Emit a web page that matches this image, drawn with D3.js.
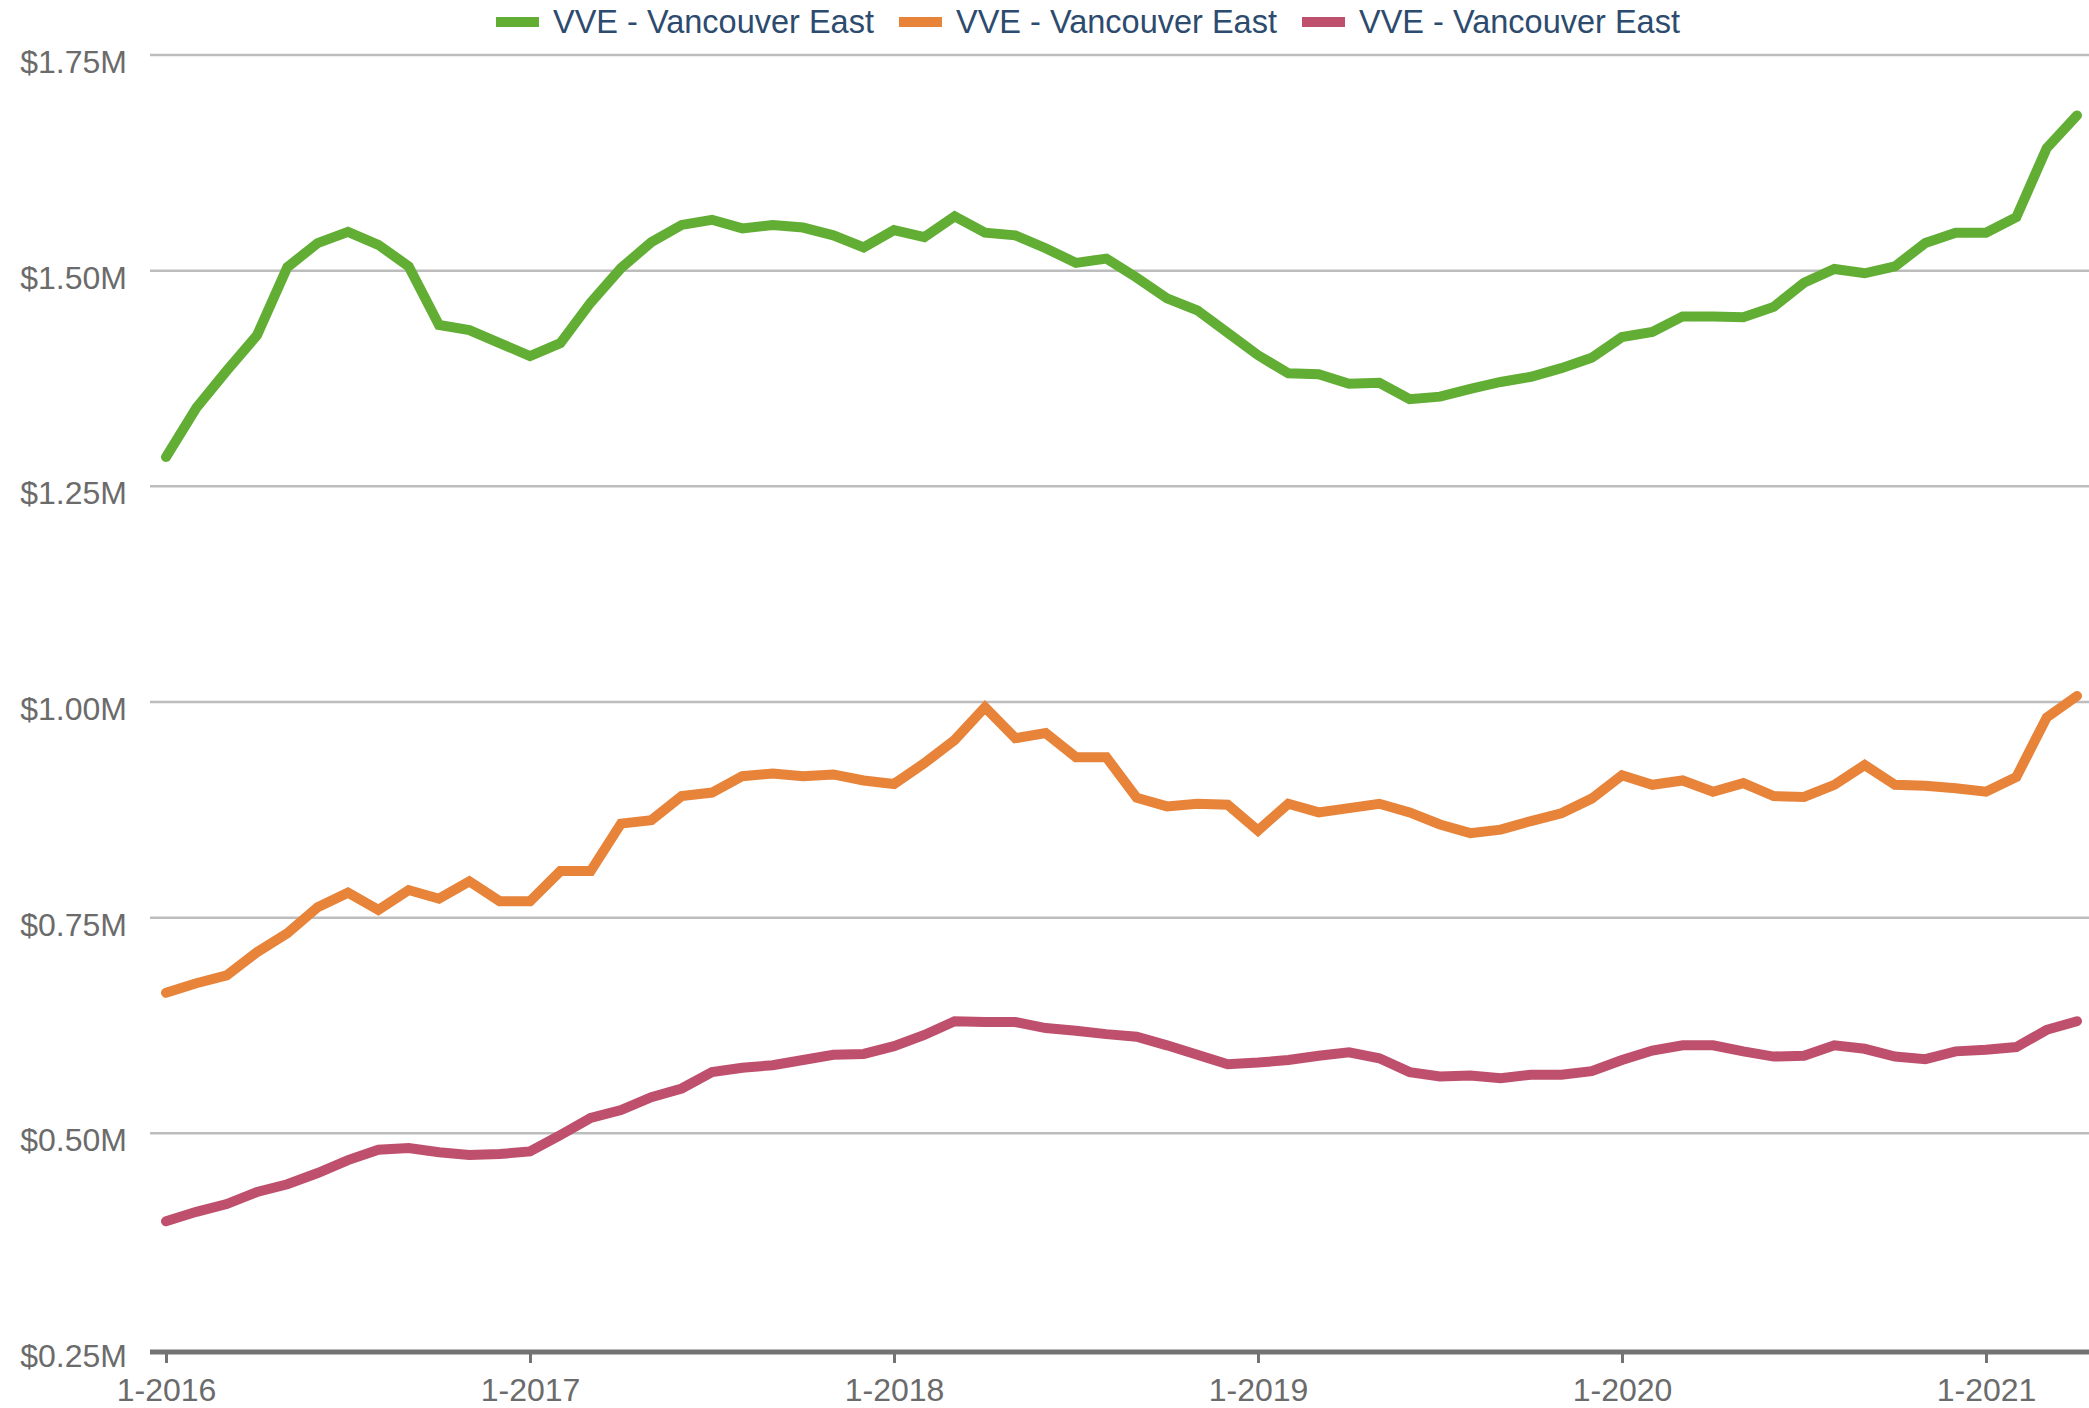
<!DOCTYPE html>
<html>
<head>
<meta charset="utf-8">
<script src="https://cdn.jsdelivr.net/npm/d3@7"></script>
<style>
    body { margin: 0; background: #fff; }
    svg { display: block; font-family: "Liberation Sans", Arial, sans-serif; }
</style>
</head>
<body>
<div id="chart"></div>
<script>
// Monthly values (in $M), Jan 2016 .. Apr 2021
const seriesNames = ["VVE - Vancouver East", "VVE - Vancouver East", "VVE - Vancouver East"];
const seriesColors = ["#62ae35", "#e8833a", "#bf506d"];

const greenValues = [
    1.284, 1.341, 1.384, 1.425, 1.504, 1.532, 1.545, 1.530, 1.505, 1.437, 1.431, 1.416,
    1.401, 1.416, 1.463, 1.503, 1.533, 1.553, 1.559, 1.549, 1.553, 1.550, 1.541, 1.527,
    1.547, 1.539, 1.563, 1.544, 1.541, 1.526, 1.509, 1.514, 1.492, 1.468, 1.454, 1.428,
    1.402, 1.381, 1.380, 1.369, 1.370, 1.351, 1.354, 1.363, 1.371, 1.377, 1.387, 1.399,
    1.423, 1.429, 1.447, 1.447, 1.446, 1.458, 1.486, 1.502, 1.497, 1.505, 1.532, 1.544,
    1.544, 1.562, 1.642, 1.680
];
const orangeValues = [
    0.663, 0.674, 0.683, 0.710, 0.732, 0.762, 0.779, 0.759, 0.782, 0.772, 0.792, 0.769,
    0.769, 0.804, 0.804, 0.859, 0.863, 0.891, 0.895, 0.914, 0.917, 0.914, 0.916, 0.909,
    0.905, 0.929, 0.956, 0.994, 0.958, 0.964, 0.936, 0.936, 0.889, 0.879, 0.882, 0.881,
    0.851, 0.882, 0.872, 0.877, 0.882, 0.872, 0.858, 0.848, 0.852, 0.862, 0.871, 0.888,
    0.915, 0.904, 0.909, 0.896, 0.906, 0.891, 0.890, 0.904, 0.927, 0.904, 0.903, 0.900,
    0.896, 0.913, 0.982, 1.007
];
const pinkValues = [
    0.398, 0.409, 0.418, 0.432, 0.441, 0.454, 0.469, 0.481, 0.483, 0.478, 0.475, 0.476,
    0.479, 0.498, 0.518, 0.527, 0.542, 0.552, 0.571, 0.576, 0.579, 0.585, 0.591, 0.592,
    0.601, 0.614, 0.630, 0.629, 0.629, 0.622, 0.619, 0.615, 0.612, 0.602, 0.591, 0.580,
    0.582, 0.585, 0.590, 0.594, 0.587, 0.571, 0.566, 0.567, 0.564, 0.568, 0.568, 0.572,
    0.585, 0.596, 0.602, 0.602, 0.595, 0.589, 0.590, 0.602, 0.598, 0.589, 0.586, 0.595,
    0.597, 0.600, 0.620, 0.630
];

const xTickIndex = [0, 12, 24, 36, 48, 60];
const xTickLabels = ["1-2016", "1-2017", "1-2018", "1-2019", "1-2020", "1-2021"];
const yTicks = [0.25, 0.50, 0.75, 1.00, 1.25, 1.50, 1.75];

const WIDTH = 2089;
const HEIGHT = 1408;
const PLOT_LEFT = 150;

const svg = d3.select("#chart")
    .append("svg")
    .attr("width", WIDTH)
    .attr("height", HEIGHT);

const x = d3.scaleLinear()
    .domain([0, greenValues.length - 1])
    .range([166, 2077]);

const y = d3.scaleLinear()
    .domain([0.25, 1.75])
    .range([1349, 55]);

// Gridlines
svg.append("g")
    .selectAll("line")
    .data(yTicks.slice(1))
    .enter()
    .append("line")
    .attr("x1", PLOT_LEFT)
    .attr("x2", WIDTH)
    .attr("y1", d => y(d))
    .attr("y2", d => y(d))
    .attr("stroke", "#bdbdbd")
    .attr("stroke-width", 2.5);

// Y labels
svg.append("g")
    .selectAll("text")
    .data(yTicks)
    .enter()
    .append("text")
    .attr("x", 127)
    .attr("y", d => y(d) + 18)
    .attr("text-anchor", "end")
    .attr("font-size", 32)
    .attr("fill", "#6b6b6b")
    .text(d => "$" + d3.format(".2f")(d) + "M");

// X axis (sits a few px under the lowest gridline)
const xAxis = svg.append("g")
    .attr("transform", `translate(0,${y(0.25) + 3})`)
    .call(d3.axisBottom(x)
        .tickValues(xTickIndex)
        .tickFormat((d, i) => xTickLabels[i])
        .tickSize(11)
        .tickSizeOuter(0)
        .tickPadding(15));

xAxis.select(".domain").remove();
xAxis.append("line")
    .attr("x1", PLOT_LEFT)
    .attr("x2", WIDTH)
    .attr("stroke", "#737373")
    .attr("stroke-width", 5);
xAxis.selectAll(".tick line")
    .attr("stroke", "#737373")
    .attr("stroke-width", 3);
xAxis.selectAll(".tick text")
    .attr("font-size", 32)
    .attr("font-family", "'Liberation Sans', Arial, sans-serif")
    .attr("fill", "#6b6b6b");

// Lines
const line = d3.line()
    .x((d, i) => x(i))
    .y(d => y(d));

const allSeries = [greenValues, orangeValues, pinkValues];

svg.append("g")
    .selectAll("path")
    .data(allSeries)
    .enter()
    .append("path")
    .attr("d", d => line(d))
    .attr("fill", "none")
    .attr("stroke", (d, i) => seriesColors[i])
    .attr("stroke-width", 10)
    .attr("stroke-linejoin", "miter")
    .attr("stroke-linecap", "round");

// Legend
const legend = svg.append("g")
    .selectAll("g")
    .data(seriesNames)
    .enter()
    .append("g")
    .attr("transform", (d, i) => `translate(${496 + i * 403},0)`);

legend.append("rect")
    .attr("x", 0)
    .attr("y", 17)
    .attr("width", 43)
    .attr("height", 10)
    .attr("fill", (d, i) => seriesColors[i]);

legend.append("text")
    .attr("x", 57)
    .attr("y", 33)
    .attr("font-size", 32.5)
    .attr("fill", "#2c4b6e")
    .text(d => d);
</script>
</body>
</html>
